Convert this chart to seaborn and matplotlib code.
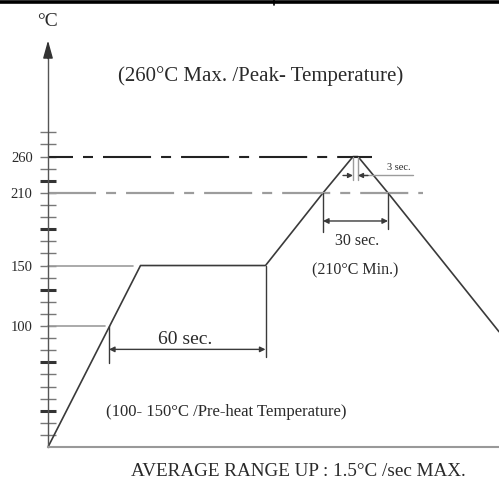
import numpy as np
import pandas as pd
import matplotlib
matplotlib.use("Agg")
import matplotlib.pyplot as plt
import seaborn as sns

# ---- data (schematic reflow profile) ----
profile_time = [0, 37, 87, 110, 122, 124, 136, 180.4]      # s (schematic)
profile_temp = [0, 150, 150, 210, 260, 260, 210, 95.3]     # degC
tick_label_temps = [100, 150, 210, 260]
tick_labels = ["100", "150", "210", "260"]
thin_tick_temps = [10, 20, 40, 50, 60, 80, 90, 100, 110, 120, 140, 150, 160,
                   170, 190, 200, 210, 243.3, 260, 276.7, 293.3]
thick_tick_temps = [30, 70, 130, 180, 226.7]

sns.set_theme(style="white")
plt.rcParams["font.family"] = ["Liberation Serif", "DejaVu Serif"]
plt.rcParams["lines.scale_dashes"] = False

W, H = 499, 486
fig = plt.figure(figsize=(W / 100, H / 100), dpi=100)
ax = fig.add_axes([0, 0, 1, 1])


def fwd(t):
    t = np.asarray(t, dtype=float)
    return np.where(t <= 210, t, 210 + 0.6 * (t - 210))


def inv(u):
    u = np.asarray(u, dtype=float)
    return np.where(u <= 210, u, 210 + (u - 210) / 0.6)


ax.set_yscale("function", functions=(fwd, inv))
ax.set_xlim(-19.2, 180.4)
ax.set_ylim(-32.2, 475.7)

DARK = "#3a3a3a"
GRAY = "#9c9c9c"
TXT = "#2a2a2a"

df = pd.DataFrame({"time": profile_time, "temp": profile_temp})
sns.lineplot(data=df, x="time", y="temp", ax=ax, color=DARK, lw=1.2,
             estimator=None, sort=False)

# reference lines
ax.plot([0, 129.6], [260, 260], color="#222222", lw=1.5,
        linestyle=(16.6, (34.6, 7.2, 7.2, 7.2)))
ax.plot([0, 150], [210, 210], color=GRAY, lw=1.6,
        linestyle=(0, (34.6, 7.2, 7.2, 7.2)))
ax.plot([0, 34], [150, 150], color=GRAY, lw=1.2)
ax.plot([0, 22.8], [100, 100], color=GRAY, lw=1.2)

# 60 sec dimension
ax.plot([24.4, 24.4], [100, 69.4], color=DARK, lw=1.0)
ax.plot([87, 87], [150, 74.4], color=DARK, lw=1.0)
ax.annotate("", xy=(24.4, 80.7), xytext=(87, 80.7),
            arrowprops=dict(arrowstyle="<|-|>", color=DARK, lw=1.0,
                            mutation_scale=8, shrinkA=0, shrinkB=0))
# 30 sec dimension
ax.plot([110, 110], [210, 177.9], color=DARK, lw=1.0)
ax.plot([136, 136], [210, 180.2], color=DARK, lw=1.0)
ax.annotate("", xy=(110, 186.8), xytext=(136, 186.8),
            arrowprops=dict(arrowstyle="<|-|>", color=DARK, lw=1.0,
                            mutation_scale=8, shrinkA=0, shrinkB=0))
# 3 sec dimension
ax.plot([122, 122], [260, 227.8], color=GRAY, lw=1.0)
ax.plot([124, 124], [260, 227.8], color=GRAY, lw=1.0)
ax.annotate("", xy=(122, 234), xytext=(118, 234),
            arrowprops=dict(arrowstyle="-|>", color=DARK, lw=1.0,
                            mutation_scale=7, shrinkA=0, shrinkB=0))
ax.annotate("", xy=(124, 234), xytext=(128, 234),
            arrowprops=dict(arrowstyle="-|>", color=DARK, lw=1.0,
                            mutation_scale=7, shrinkA=0, shrinkB=0))
ax.plot([124, 146], [234, 234], color=GRAY, lw=1.0)

# axes spines
for s in ["top", "right"]:
    ax.spines[s].set_visible(False)
ax.spines["left"].set_position(("data", 0))
ax.spines["left"].set_bounds(0, 400)
ax.spines["left"].set_color("#555555")
ax.spines["left"].set_linewidth(1.0)
ax.spines["bottom"].set_position(("data", 0))
ax.spines["bottom"].set_bounds(0, 180.4)
ax.spines["bottom"].set_color("#999999")
ax.spines["bottom"].set_linewidth(1.5)
ax.annotate("", xy=(0, 420), xytext=(0, 395),
            arrowprops=dict(arrowstyle="-|>,head_length=0.9,head_width=0.25",
                            color="#333333", lw=1.0, shrinkA=0, shrinkB=0))

ax.set_xticks([])
ax.set_yticks(thin_tick_temps)
ax.set_yticklabels(["" if t not in tick_label_temps else
                    tick_labels[tick_label_temps.index(t)] for t in thin_tick_temps])
ax.set_yticks(thick_tick_temps, minor=True)
ax.tick_params(axis="y", which="major", direction="inout", length=12,
               width=1.0, color="#777777", labelsize=10.5, labelcolor=TXT, pad=5,
               left=True)
ax.tick_params(axis="y", which="minor", direction="inout", length=12,
               width=2.2, color="#333333", left=True)
ax.set_xlabel("")
ax.set_ylabel("")
ax.grid(False)


def ftext(x, y, s, size, **kw):
    fig.text(x / W, 1 - y / H, s, ha="center", va="center", fontsize=size,
             color=TXT, **kw)


ftext(47, 22, "°C", 14)
ftext(261, 76, "(260°C Max. /Peak- Temperature)", 15)
ftext(399, 167, "3 sec.", 7.5)
ftext(357, 241, "30 sec.", 11.5)
ftext(355, 270, "(210°C Min.)", 11.5)
ftext(185, 339, "60 sec.", 14)
ftext(226, 412, "(100- 150°C /Pre-heat Temperature)", 12)
ftext(298, 471, "AVERAGE RANGE UP : 1.5°C /sec MAX.", 13.8)

# top border remnant
fig.add_artist(plt.Line2D([0, 1], [1 - 2.5 / H, 1 - 2.5 / H],
                          transform=fig.transFigure, color="black", lw=2.6))
fig.add_artist(plt.Line2D([274 / W, 274 / W], [1, 1 - 5 / H],
                          transform=fig.transFigure, color="black", lw=1.2))

fig.savefig("out.png", dpi=100)
